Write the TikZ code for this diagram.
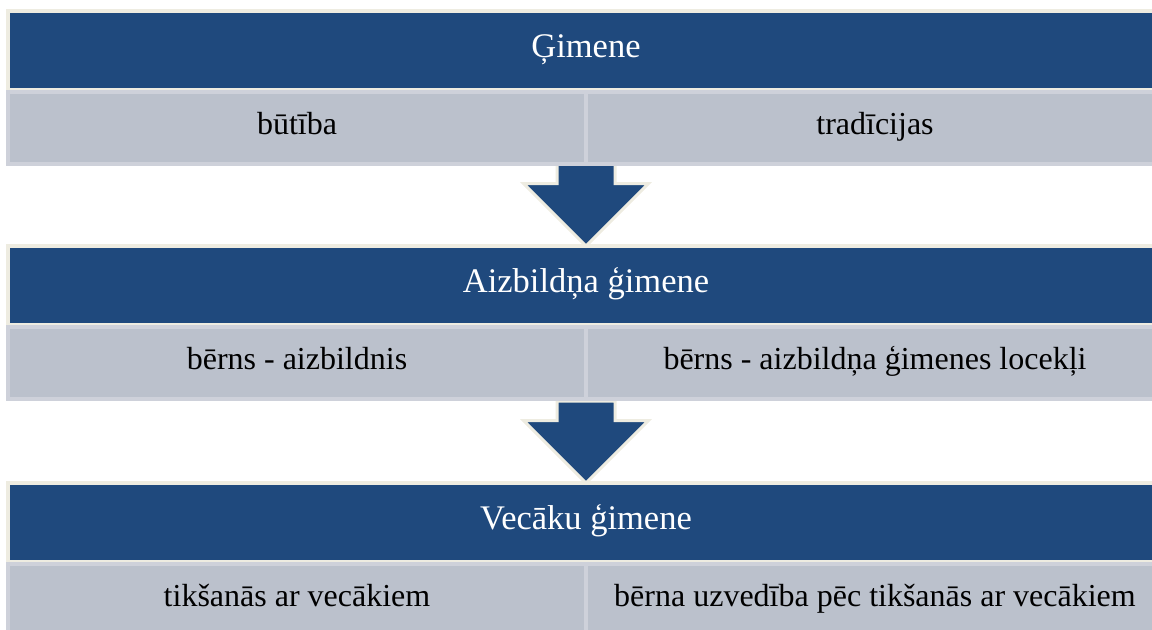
\documentclass[tikz,border=0pt]{standalone}
\usepackage{fontspec}
\setmainfont{Liberation Serif}
\usetikzlibrary{shapes.arrows}
\definecolor{hblue}{RGB}{31,73,125}
\definecolor{hcream}{RGB}{238,236,225}
\definecolor{sgray}{RGB}{187,193,204}
\definecolor{sline}{RGB}{206,209,218}
\begin{document}
\begin{tikzpicture}[x=0.5pt,y=-0.5pt,
	head/.style={rectangle,fill=hblue,draw=hcream,line width=2pt,minimum width=578pt,minimum height=39.5pt,inner sep=0pt,outer sep=0pt,text=white,text height=1.6ex,text depth=.15ex,font=\fontsize{17.25}{20}\selectfont},
	part/.style={rectangle,fill=sgray,draw=sline,line width=2pt,minimum width=289pt,minimum height=36pt,inner sep=0pt,outer sep=0pt,anchor=north west,text height=1.55ex,text depth=.2ex,font=\fontsize{16}{19}\selectfont},
	down/.style={single arrow,rotate=-90,anchor=tip,fill=hblue,draw=hcream,line width=1.5pt,minimum height=41pt,minimum width=61pt,single arrow head extend=16.75pt,inner xsep=0pt,inner ysep=13.75pt,outer sep=0pt}]
	\useasboundingbox (0,0) rectangle (1152,629);
	\node [head] (h1) at (586,50.5) {Ģimene};
	\node [head] (h2) at (586,285.5) {Aizbildņa ģimene};
	\node [head] (h3) at (586,522.5) {Vecāku ģimene};
	\node [down] (a1) at (h2.north) {};
	\node [down] (a2) at (h3.north) {};
	\node [part] (p1) at ([yshift=-1pt]h1.south west) {būtība};
	\node [part] (p2) at (p1.north east) {tradīcijas};
	\node [part] (p3) at ([yshift=-1pt]h2.south west) {bērns - aizbildnis};
	\node [part] (p4) at (p3.north east) {bērns - aizbildņa ģimenes locekļi};
	\node [part] (p5) at ([yshift=-1pt]h3.south west) {tikšanās ar vecākiem};
	\node [part] (p6) at (p5.north east) {bērna uzvedība pēc tikšanās ar vecākiem};
\end{tikzpicture}
\end{document}
